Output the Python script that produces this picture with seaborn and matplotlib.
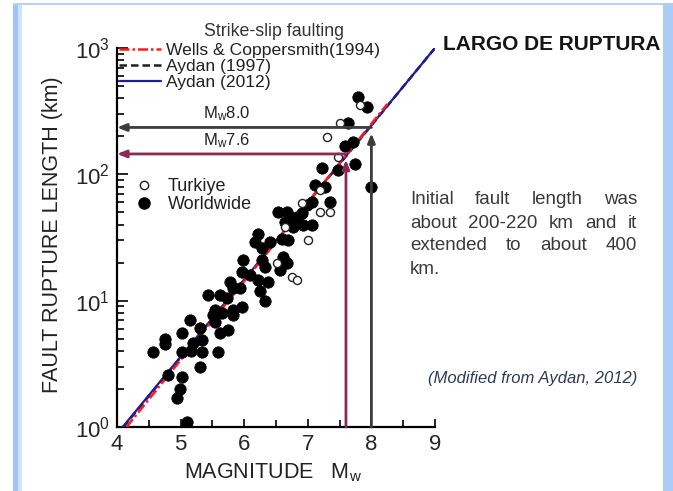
import matplotlib
matplotlib.use("Agg")
import matplotlib.pyplot as plt
from matplotlib.lines import Line2D
from matplotlib.patches import Rectangle
from matplotlib.ticker import LogLocator, MultipleLocator, NullFormatter
import pandas as pd
import seaborn as sns

# ---------------- data ----------------
worldwide_mw = [7.79, 7.93, 7.63, 7.71, 7.58, 7.74, 7.47, 7.22, 8.00, 7.11,
                7.27, 7.35, 7.07, 6.98, 6.53, 6.67, 6.72, 6.64, 6.91, 6.93,
                7.07, 6.77, 6.59, 6.69, 6.61, 6.83, 6.22, 6.17, 6.41, 6.28,
                5.98, 6.28, 6.33, 6.67, 6.56, 5.97, 6.09, 6.22, 6.37, 5.78,
                5.82, 5.93, 6.25, 5.43, 5.62, 5.73, 6.33, 5.97, 5.82, 5.54,
                5.15, 5.51, 5.65, 5.82, 5.54, 5.30, 5.62, 5.75, 5.02, 4.75,
                4.75, 5.19, 5.34, 4.57, 5.02, 5.34, 5.59, 5.17, 5.30, 4.80,
                5.02, 4.99, 4.94, 5.10, 5.08]
worldwide_len = [410, 340, 256, 180, 167, 121, 108, 112, 79, 83,
                 79, 60, 60, 57, 50, 50, 46, 42, 49, 40,
                 40, 38, 31, 30, 22, 46, 34, 29, 29, 26,
                 21, 21, 18.5, 20, 17.5, 17, 16, 14.5, 14, 14,
                 12.6, 12.6, 12, 11, 11, 10.5, 10, 8.9, 8.5, 8.5,
                 7.0, 7.7, 8.0, 7.7, 6.8, 6.1, 5.5, 5.9, 5.5, 5.0,
                 4.5, 4.6, 4.9, 3.9, 3.9, 3.9, 3.9, 4.0, 3.0, 2.6,
                 2.5, 2.0, 1.7, 1.1, 1.0]

turkiye_mw = [7.82, 7.51, 7.30, 7.47, 7.19, 6.91, 7.19, 7.35, 6.64, 7.00,
              6.52, 6.75, 6.83]
turkiye_len = [355, 256, 198, 137, 75, 59, 50, 50, 38, 30,
               20, 15.5, 14.5]

# empirical relations (end points of each straight line on log axes)
wells_mw = [4.15, 8.25]
wells_len = [1.0, 360.0]
aydan1997_mw = [4.10, 9.0]
aydan1997_len = [1.0, 1000.0]
aydan2012_mw = [4.09, 9.0]
aydan2012_len = [1.0, 1000.0]

# rupture length read-off for the two scenario magnitudes
scenario_mw = [8.0, 7.6]
scenario_len = [235.0, 145.0]
scenario_labels = [r"$\mathregular{M_w}$8.0", r"$\mathregular{M_w}$7.6"]

x_ticks = [4, 5, 6, 7, 8, 9]

W, H = 673, 491

sns.set_theme(style="ticks")
plt.rcParams["font.family"] = ["Liberation Sans", "DejaVu Sans"]
plt.rcParams["mathtext.default"] = "regular"

fig = plt.figure(figsize=(W / 100, H / 100), dpi=100)
fig.patch.set_facecolor("white")

# slide frame
fig.patches.append(Rectangle((13 / W, 0), 5 / W, 1 - 3 / H, transform=fig.transFigure,
                             facecolor="#9dc6f5", edgecolor="none", zorder=0))
fig.patches.append(Rectangle((18 / W, 0), 4 / W, 1 - 5 / H, transform=fig.transFigure,
                             facecolor="#cfe3fa", edgecolor="none", zorder=0))
fig.patches.append(Rectangle((13 / W, 1 - 5 / H), 1 - 13 / W, 2 / H, transform=fig.transFigure,
                             facecolor="#b3d3f7", edgecolor="none", zorder=0))
fig.patches.append(Rectangle((663 / W, 0), 10 / W, 1 - 3 / H, transform=fig.transFigure,
                             facecolor="#a9cdf6", edgecolor="none", zorder=0))

ax = fig.add_axes([117 / W, 1 - 427 / H, (435 - 117) / W, (427 - 48) / H])
ax.set_facecolor("white")

ax.set_yscale("log")
ax.set_xlim(4, 9)
ax.set_ylim(1, 1000)

# fitted relations
lw = 1.8
sns.lineplot(x=aydan1997_mw, y=aydan1997_len, ax=ax, color="#1e1e1e", lw=lw,
             linestyle=(0, (3.0, 1.6)), zorder=3, legend=False)
sns.lineplot(x=aydan2012_mw, y=aydan2012_len, ax=ax, color="#1d1d9a", lw=1.6,
             zorder=4, legend=False)
sns.lineplot(x=wells_mw, y=wells_len, ax=ax, color="#ff1a1a", lw=lw,
             linestyle=(0, (4.0, 1.2, 1.0, 1.2)), zorder=5, legend=False)

# observations
world = pd.DataFrame({"mw": worldwide_mw, "length": worldwide_len})
turk = pd.DataFrame({"mw": turkiye_mw, "length": turkiye_len})
sns.scatterplot(data=world, x="mw", y="length", ax=ax, color="black", s=68,
                edgecolor="black", linewidth=0.5, zorder=6, legend=False)
sns.scatterplot(data=turk, x="mw", y="length", ax=ax, color="white", s=34,
                edgecolor="#222222", linewidth=1.0, zorder=7, legend=False)

# read-off arrows for the two scenario magnitudes
arrow_colors = ["#3c3c3c", "#8a2a55"]
head = "-|>,head_length=0.45,head_width=0.18"
for mw, length, label, col in zip(scenario_mw, scenario_len, scenario_labels, arrow_colors):
    ax.annotate("", xy=(4.0, length), xytext=(mw, length),
                arrowprops=dict(arrowstyle=head, color=col, lw=2.0, shrinkA=0, shrinkB=0),
                zorder=8, annotation_clip=False)
    ax.annotate("", xy=(mw, length * 0.9), xytext=(mw, 1.0),
                arrowprops=dict(arrowstyle=head, color=col, lw=2.0, shrinkA=0, shrinkB=0),
                zorder=8, annotation_clip=False)
    ax.annotate(label, xy=(5.73, length), xytext=(0, 3), textcoords="offset points",
                ha="center", va="bottom", fontsize=12, color="#222222")

# axes styling
for side in ("top", "right"):
    ax.spines[side].set_visible(False)
for side in ("left", "bottom"):
    ax.spines[side].set_linewidth(1.6)
    ax.spines[side].set_color("black")

ax.set_xticks(x_ticks)
ax.xaxis.set_minor_locator(MultipleLocator(0.5))
ax.yaxis.set_major_locator(LogLocator(base=10))
ax.yaxis.set_minor_locator(LogLocator(base=10, subs=range(2, 10)))
ax.yaxis.set_minor_formatter(NullFormatter())
ax.tick_params(which="both", direction="in", color="black", width=1.2)
ax.tick_params(axis="x", which="major", length=6, pad=5, labelsize=16)
ax.tick_params(axis="x", which="minor", length=5)
ax.tick_params(axis="y", which="major", length=8, pad=5, labelsize=16)
ax.tick_params(axis="y", which="minor", length=5)

ax.set_xlabel(r"MAGNITUDE   $\mathregular{M_w}$", fontsize=15.5, color="#222222")
ax.set_ylabel("FAULT RUPTURE LENGTH (km)", fontsize=15.5, color="#222222")
ax.xaxis.set_label_coords(0.49, -0.09)
ax.yaxis.set_label_coords(-0.171, 0.507)

# legends
line_handles = [
    Line2D([], [], color="#ff1a1a", lw=lw, linestyle=(0, (4.0, 1.2, 1.0, 1.2))),
    Line2D([], [], color="#1e1e1e", lw=lw, linestyle=(0, (3.0, 1.6))),
    Line2D([], [], color="#1d1d9a", lw=1.6),
]
leg1 = ax.legend(line_handles, ["Wells & Coppersmith(1994)", "Aydan (1997)", "Aydan (2012)"],
                 loc="upper left", bbox_to_anchor=(119 / W, 1 - 43 / H),
                 bbox_transform=fig.transFigure, frameon=False, fontsize=12.6,
                 borderpad=0, borderaxespad=0, handlelength=2.4, handletextpad=0.3,
                 labelspacing=0.05)
for t in leg1.get_texts():
    t.set_color("#222222")
ax.add_artist(leg1)

pt_handles = [
    Line2D([], [], ls="none", marker="o", markersize=6, markerfacecolor="white",
           markeredgecolor="#222222", markeredgewidth=1.0),
    Line2D([], [], ls="none", marker="o", markersize=8, markerfacecolor="black",
           markeredgecolor="black"),
]
leg2 = ax.legend(pt_handles, ["Turkiye", "Worldwide"], loc="upper left",
                 bbox_to_anchor=(137 / W, 1 - 178 / H), bbox_transform=fig.transFigure,
                 frameon=False, fontsize=13, borderpad=0, borderaxespad=0,
                 handlelength=0.8, handletextpad=0.9, labelspacing=0.05)
for t in leg2.get_texts():
    t.set_color("#222222")

# titles and notes
fig.text(274 / W, 1 - 31 / H, "Strike-slip faulting", ha="center", va="center",
         fontsize=12.8, color="#333333")
fig.text(443 / W, 1 - 45 / H, "LARGO DE RUPTURA", ha="left", va="center",
         fontsize=15, fontweight="bold", color="#151515")

note_lines = ["Initial fault length was",
              "about 200-220 km and it",
              "extended to about 400",
              "km."]
renderer = fig.canvas.get_renderer()
x0, x1 = 410, 637
for i, line in enumerate(note_lines):
    y = 1 - (200 + i * 23) / H
    words = line.split()
    if i == len(note_lines) - 1:
        fig.text(x0 / W, y, line, ha="left", va="center", fontsize=13.5, color="#3a3a3a")
        continue
    texts = [fig.text(0, y, w, ha="left", va="center", fontsize=13.5, color="#3a3a3a")
             for w in words]
    widths = [t.get_window_extent(renderer).width for t in texts]
    gap = (x1 - x0 - sum(widths)) / (len(words) - 1)
    xpos = x0
    for t, wdt in zip(texts, widths):
        t.set_x(xpos / W)
        xpos += wdt + gap

fig.text(637 / W, 1 - 378 / H, "(Modified from Aydan, 2012)", ha="right", va="center",
         fontsize=12, style="italic", color="#2e3b58")

fig.savefig("out.png", dpi=100)
